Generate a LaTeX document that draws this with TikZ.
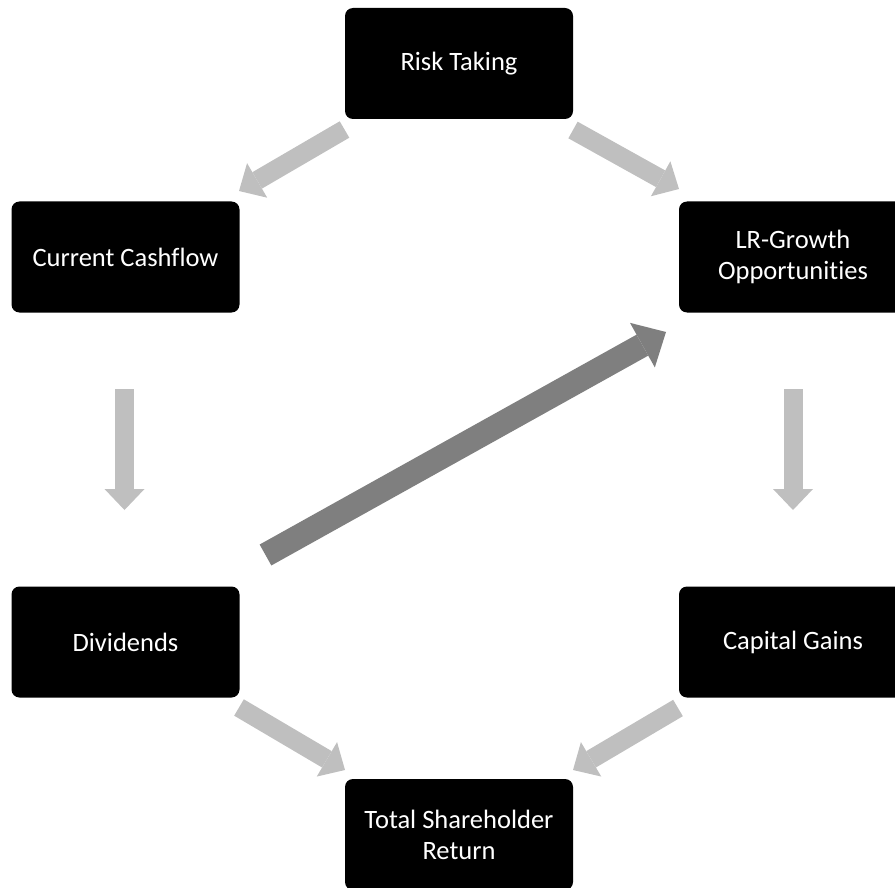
\documentclass[tikz,border=0pt]{standalone}
\usepackage{fontspec}
\setmainfont{Carlito}[Ligatures=NoCommon]
\usepackage{xcolor}
\usepackage{tikz}
\usetikzlibrary{arrows.meta, positioning}

\definecolor{lightflow}{HTML}{BFBFBF}
\definecolor{darkflow}{HTML}{7F7F7F}

\begin{document}
\begin{tikzpicture}[
      x=1pt, y=-1pt,
      box/.style={rectangle, rounded corners=8pt, fill=black, text=white,
        minimum width=228pt, minimum height=111pt, align=center,
        font=\fontsize{26.5}{31}\selectfont},
      flow/.style={draw=lightflow, line width=19pt,
        -{Triangle[width=40pt, length=21pt, line width=0pt]}},
      bigflow/.style={draw=darkflow, line width=24pt,
        -{Triangle[width=51pt, length=27pt, line width=0pt]}}
    ]
      \useasboundingbox (0,0) rectangle (895,888);

      \node[box] (risk) at (459,63.5) {Risk Taking};
      \node[box] (cash) at (125.5,257) {Current Cashflow};
      \node[box] (growth) at (793,257) {LR-Growth\\Opportunities};
      \node[box] (div) at (125.5,642) {Dividends};
      \node[box] (gains) at (793,642) {Capital Gains};
      \node[box] (tsr) at (459,834.5) {Total Shareholder\\Return};

      % arrow ends
      \coordinate (rc-a) at (344.5,129.5);
      \coordinate (rc-b) at (239,191);
      \coordinate (rg-a) at (573,130);
      \coordinate (rg-b) at (679,189);
      \coordinate (cd-a) at (124.5,389);
      \coordinate (cd-b) at (124.5,510);
      \coordinate (gg-a) at (793,389);
      \coordinate (gg-b) at (793,510);
      \coordinate (dt-a) at (239,707.5);
      \coordinate (dt-b) at (345,770);
      \coordinate (gt-a) at (678,708);
      \coordinate (gt-b) at (573,770);
      \coordinate (dg-a) at (265.5,555);
      \coordinate (dg-b) at (666,332);

      \draw[flow] (rc-a) -- (rc-b);
      \draw[flow] (rg-a) -- (rg-b);
      \draw[flow] (cd-a) -- (cd-b);
      \draw[flow] (gg-a) -- (gg-b);
      \draw[flow] (dt-a) -- (dt-b);
      \draw[flow] (gt-a) -- (gt-b);
      \draw[bigflow] (dg-a) -- (dg-b);
    \end{tikzpicture}
\end{document}
